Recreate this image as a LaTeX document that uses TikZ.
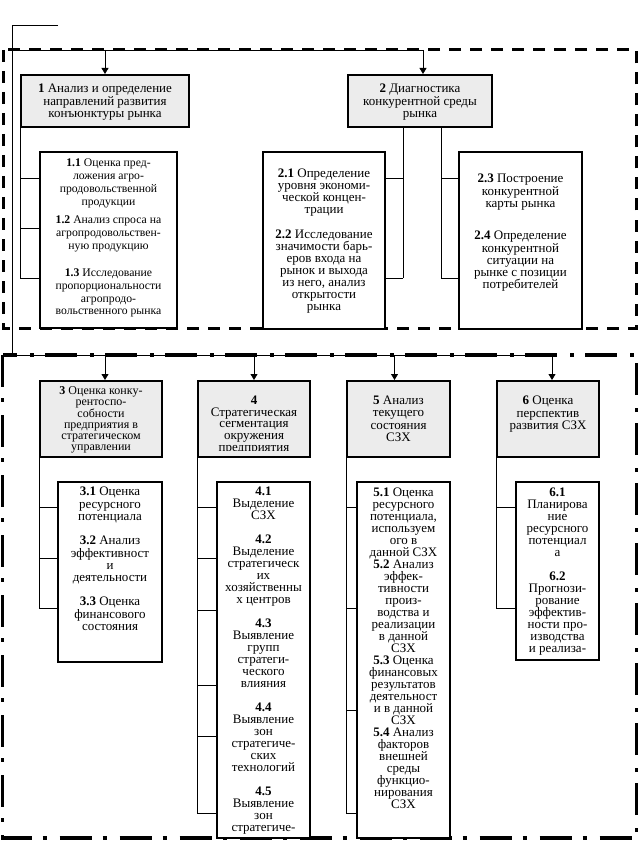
\documentclass[tikz,border=0pt]{standalone}
\usepackage{fontspec}
\setmainfont{Liberation Serif}
\usetikzlibrary{arrows.meta}

\begin{document}
\begin{tikzpicture}[
x=1pt,y=-1pt,
hbox/.style={draw,line width=2pt,fill=gray!15,inner sep=0pt},
sbox/.style={draw,line width=2pt,fill=white,inner sep=0pt},
txt/.style={anchor=north,align=center,inner sep=0pt,font=\fontsize{13}{12}\selectfont},
link/.style={line width=0.8pt},
feed/.style={link,-{Triangle[width=7pt,length=6pt]}},
stage/.style={line width=3pt,dash pattern=on 12pt off 9pt},
block/.style={line width=3.5pt,dash pattern=on 32pt off 11pt on 4pt off 13pt}]
    \useasboundingbox (0,0) rectangle (639,842);

    % Draw frames
    \draw[stage] (3,50) rectangle (636.5,328);
    \draw[block] (2.5,355) rectangle (636.5,838);

    % Feed lines
    \coordinate (start) at (58,25);
    \coordinate (corner) at (12,25);
    \coordinate (busA) at (12,50);
    \coordinate (busB) at (12,355);
    \coordinate (endA) at (423,50);
    \coordinate (endB) at (552,355);
    \draw[link] (start) -- (corner) -- (busB);
    \draw[link] (busA) -- (endA);
    \draw[link] (busB) -- (endB);

    % Upper stage
    \node[hbox,minimum width=168pt,minimum height=52pt] (b1) at (105,101) {};
    \node[hbox,minimum width=144pt,minimum height=52pt] (b2) at (420,101) {};
    \node[sbox,minimum width=137pt,minimum height=176pt] (b11) at (108.5,240) {};
    \node[sbox,minimum width=122pt,minimum height=177pt] (b21) at (324,240.5) {};
    \node[sbox,minimum width=123pt,minimum height=177pt] (b23) at (520.5,240.5) {};

    % Lower stage
    \node[hbox,minimum width=122pt,minimum height=76pt] (b3) at (101,419) {};
    \node[hbox,minimum width=112pt,minimum height=76pt] (b4) at (254,419) {};
    \node[hbox,minimum width=103pt,minimum height=76pt] (b5) at (398.5,419) {};
    \node[hbox,minimum width=102pt,minimum height=76pt] (b6) at (548,419) {};
    \node[sbox,minimum width=104pt,minimum height=180pt] (b31) at (110,572) {};
    \node[sbox,minimum width=93pt,minimum height=356pt] (b41) at (263.5,660) {};
    \node[sbox,minimum width=93pt,minimum height=356pt] (b51) at (403.5,660) {};
    \node[sbox,minimum width=83pt,minimum height=178pt] (b61) at (557.5,571) {};

    % Arrows from the feed lines
    \coordinate (a1) at (b1.north);
    \coordinate (a2) at ([xshift=3pt]b2.north);
    \coordinate (a3) at ([xshift=4pt]b3.north);
    \coordinate (a4) at (b4.north);
    \coordinate (a5) at ([xshift=-4pt]b5.north);
    \coordinate (a6) at ([xshift=4pt]b6.north);
    \foreach \p in {a1,a2} \draw[feed] (\p |- busA) -- (\p);
    \foreach \p in {a3,a4,a5,a6} \draw[feed] (\p |- busB) -- (\p);

    % Links to the lists
    \draw[link] (b1.south west) -- (b1.south west |- 0,278);
    \foreach \y in {178,228,278} \draw[link] (b1.south west |- 0,\y) -- (b11.west |- 0,\y);
    \foreach \x/\side in {403/b21.east,441/b23.west} {
        \draw[link] (b2.south -| \x,0) -- (\x,278);
        \foreach \y in {178,278} \draw[link] (\x,\y) -- (\side |- 0,\y);
    }
    \draw[link] (b3.south west) -- (b3.south west |- 0,608);
    \foreach \y in {507,558,608} \draw[link] (b3.south west |- 0,\y) -- (b31.west |- 0,\y);
    \draw[link] (b4.south west) -- (b4.south west |- 0,813);
    \foreach \y in {507,558,610,685,736,813} \draw[link] (b4.south west |- 0,\y) -- (b41.west |- 0,\y);
    \draw[link] (b5.south west) -- (b5.south west |- 0,813);
    \foreach \y in {507,608,710,813} \draw[link] (b5.south west |- 0,\y) -- (b51.west |- 0,\y);
    \draw[link] (b6.south west) -- (b6.south west |- 0,608);
    \foreach \y in {507,608} \draw[link] (b6.south west |- 0,\y) -- (b61.west |- 0,\y);

    % Texts
    \node[txt,font=\fontsize{13}{12.5}\selectfont] (t1) at (105,84)
        {\textbf{1} Анализ и определение\\направлений развития\\конъюнктуры  рынка};
    \node[txt,font=\fontsize{13}{12.5}\selectfont] (t2) at (420,84)
        {\textbf{2} Диагностика\\конкурентной среды\\рынка};
    \node[txt,font=\fontsize{11.7}{12.7}\selectfont] (t11) at (108.5,159)
        {\textbf{1.1} Оценка пред-\\ложения агро-\\продовольственной\\продукции\\[6pt]
         \textbf{1.2} Анализ спроса на\\агропродовольствен-\\ную продукцию\\[15pt]
         \textbf{1.3} Исследование\\пропорциональности\\агропродо-\\вольственного рынка};
    \node[txt] (t21) at (324,169)
        {\textbf{2.1} Определение\\уровня экономи-\\ческой концен-\\трации\\[13pt]
         \textbf{2.2} Исследование\\значимости барь-\\еров входа на\\рынок и выхода\\из него, анализ\\открытости\\рынка};
    \node[txt,font=\fontsize{13}{12.3}\selectfont] (t23) at (520.5,174)
        {\textbf{2.3} Построение\\конкурентной\\карты рынка\\[20pt]
         \textbf{2.4} Определение\\конкурентной\\ситуации на\\рынке с позиции\\потребителей};

    \node[txt,font=\fontsize{12}{11}\selectfont] (t3) at (101,386)
        {\textbf{3} Оценка конку-\\рентоспо-\\собности\\предприятия в\\стратегическом\\управлении};
    \begin{scope}
        \clip ([shift={(1,1)}]b4.north west) rectangle ([shift={(-1,-8)}]b4.south east);
        \node[txt,font=\fontsize{13}{11.6}\selectfont] (t4) at (254,396)
            {\textbf{4}\\Стратегическая\\сегментация\\окружения\\предприятия};
    \end{scope}
    \node[txt,font=\fontsize{13}{12.2}\selectfont] (t5) at (398.5,396)
        {\textbf{5} Анализ\\текущего\\состояния\\СЗХ};
    \node[txt,font=\fontsize{13}{12.2}\selectfont] (t6) at (548,396)
        {\textbf{6} Оценка\\перспектив\\развития СЗХ};

    \node[txt,font=\fontsize{13}{12.3}\selectfont] (t31) at (110,487)
        {\textbf{3.1} Оценка\\ресурсного\\потенциала\\[12pt]
         \textbf{3.2} Анализ\\эффективност\\и\\деятельности\\[12pt]
         \textbf{3.3} Оценка\\финансового\\состояния};
    \begin{scope}
        \clip ([shift={(1,1)}]b41.north west) rectangle ([shift={(-1,-1)}]b41.south east);
        \node[txt] (t41) at (263.5,487)
            {\textbf{4.1}\\Выделение\\СЗХ\\[12pt]
             \textbf{4.2}\\Выделение\\стратегическ\\их\\хозяйственны\\х центров\\[12pt]
             \textbf{4.3}\\Выявление\\групп\\стратеги-\\ческого\\влияния\\[12pt]
             \textbf{4.4}\\Выявление\\зон\\стратегиче-\\ских\\технологий\\[12pt]
             \textbf{4.5}\\Выявление\\зон\\стратегиче-};
    \end{scope}
    \node[txt] (t51) at (403.5,488)
        {\textbf{5.1} Оценка\\ресурсного\\потенциала,\\используем\\ого в\\данной СЗХ\\
         \textbf{5.2} Анализ\\эффек-\\тивности\\произ-\\водства и\\реализации\\в данной\\СЗХ\\
         \textbf{5.3} Оценка\\финансовых\\результатов\\деятельност\\и в данной\\СЗХ\\
         \textbf{5.4} Анализ\\факторов\\внешней\\среды\\функцио-\\нирования\\СЗХ};
    \begin{scope}
        \clip ([shift={(1,1)}]b61.north west) rectangle ([shift={(-1,-5)}]b61.south east);
        \node[txt] (t61) at (557.5,488)
            {\textbf{6.1}\\Планирова\\ние\\ресурсного\\потенциал\\а\\[12pt]
             \textbf{6.2}\\Прогнози-\\рование\\эффектив-\\ности про-\\изводства\\и реализа-};
    \end{scope}

\end{tikzpicture}
\end{document}
